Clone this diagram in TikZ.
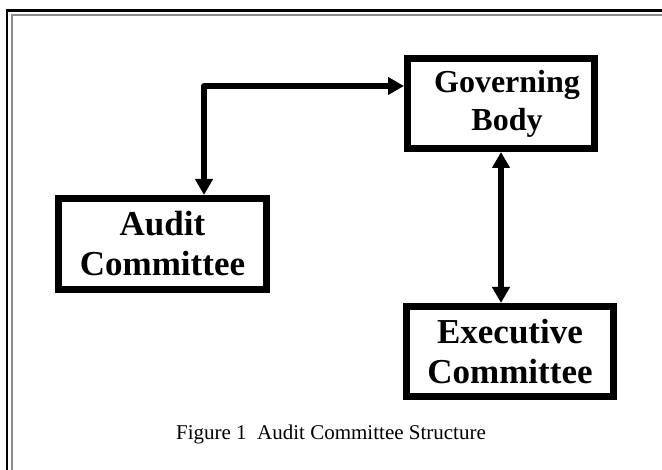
\documentclass[tikz,border=0pt]{standalone}
\usepackage{fontspec}
\setmainfont{Liberation Serif}
\usetikzlibrary{arrows.meta}
\tikzset{
  orgbox/.style={draw=black, line width=7pt, fill=white, align=center, inner sep=0pt,
    font=\fontsize{35}{40}\selectfont\bfseries},
  link/.style={line width=6pt, line join=round, {Triangle[length=16pt,width=17pt]}-{Triangle[length=16pt,width=17pt]}},
}
\begin{document}
\begin{tikzpicture}[x=1pt,y=-1pt]
\useasboundingbox (0,0) rectangle (662,470);
\clip (0,0) rectangle (662,470);
\fill[white] (0,0) rectangle (662,470);
% page frame
\draw[black, line width=2.6pt] (7,10.5) rectangle (700,520);
\draw[black!45, line width=2.2pt] (12,15) rectangle (695,515);
% boxes
\node[orgbox, minimum width=187pt, minimum height=90pt, font=\fontsize{32}{38}\selectfont\bfseries] (gov) at (501,103.5) {\hspace*{12pt}Governing\\\hspace*{12pt}Body};
\node[orgbox, minimum width=208pt, minimum height=91pt] (aud) at (162.5,244) {Audit\\Committee};
\node[orgbox, minimum width=207pt, minimum height=90pt] (exe) at (510,351.5) {Executive\\Committee};
\coordinate (c) at (204,86);
% connectors
\draw[link] (aud.north -| c) |- (gov.west |- c);
\draw[link] (gov.south) -- (gov.south |- exe.north);
% caption
\node[anchor=base, font=\fontsize{21}{25}\selectfont, inner sep=0pt] (cap) at (331,440) {Figure 1\ \ Audit Committee Structure};
\end{tikzpicture}
\end{document}
